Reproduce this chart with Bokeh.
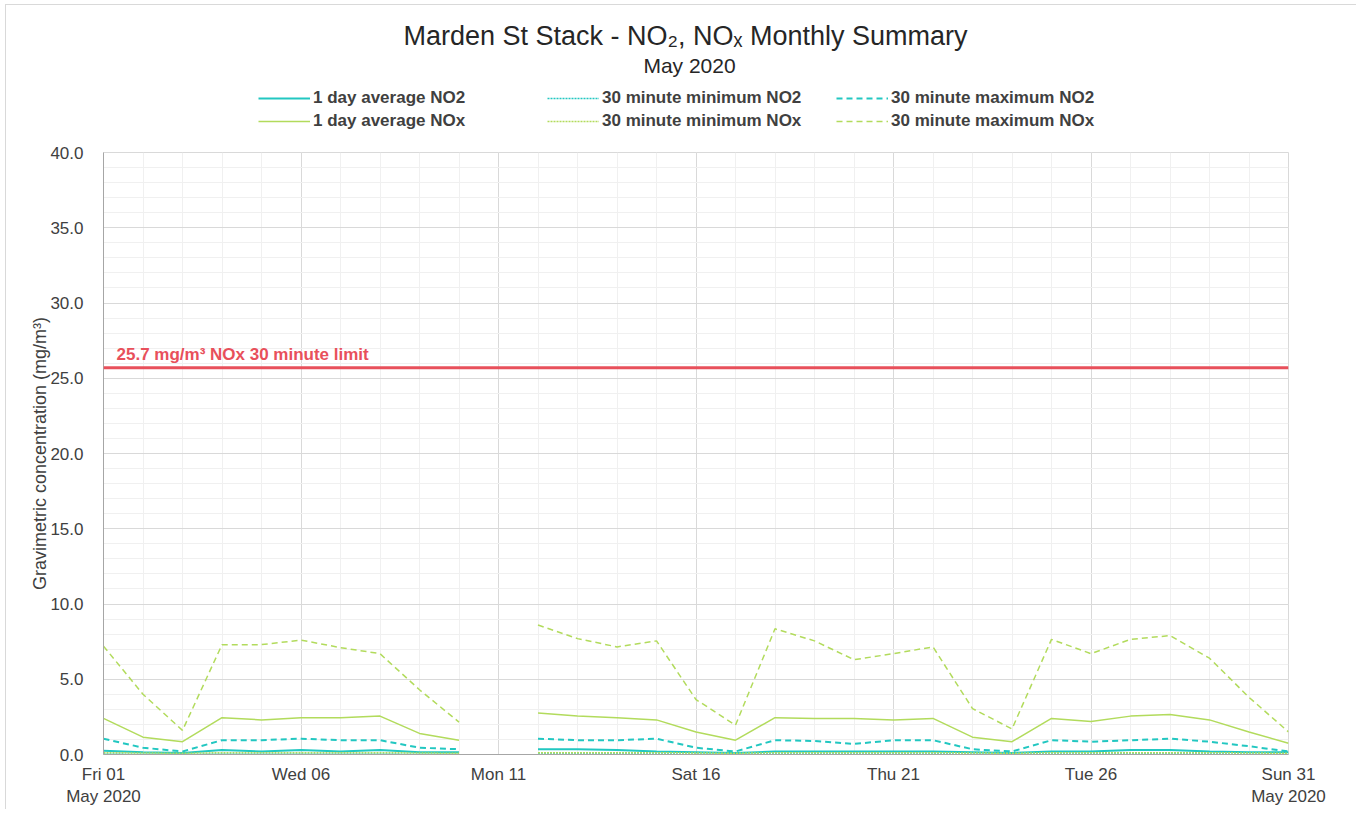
from bokeh.plotting import figure
from bokeh.layouts import column
from bokeh.models import (ColumnDataSource, Range1d, FixedTicker, PrintfTickFormatter,
                          Span, Label, Legend, LegendItem)
from bokeh.embed import file_html
from bokeh.resources import INLINE

nan = float("nan")

# ---- data (May 2020, one value per day; May 11 missing) ----
days = list(range(1, 32))
tick_days = [1, 6, 11, 16, 21, 26, 31]
tick_labels = ["Fri 01\nMay 2020", "Wed 06", "Mon 11", "Sat 16", "Thu 21", "Tue 26", "Sun 31\nMay 2020"]

no2_avg = [0.25, 0.15, 0.10, 0.30, 0.20, 0.30, 0.20, 0.30, 0.15, 0.15, nan,
           0.35, 0.35, 0.30, 0.20, 0.15, 0.10, 0.20, 0.20, 0.20, 0.20,
           0.20, 0.15, 0.10, 0.20, 0.20, 0.30, 0.30, 0.20, 0.15, 0.15]
no2_min = [0.03, 0.02, 0.02, 0.03, 0.03, 0.03, 0.03, 0.03, 0.02, 0.02, nan,
           0.03, 0.03, 0.03, 0.03, 0.02, 0.02, 0.03, 0.03, 0.03, 0.03,
           0.03, 0.02, 0.02, 0.03, 0.03, 0.03, 0.03, 0.03, 0.02, 0.02]
no2_max = [1.05, 0.45, 0.20, 0.95, 0.95, 1.05, 0.95, 0.95, 0.45, 0.35, nan,
           1.05, 0.95, 0.95, 1.05, 0.45, 0.20, 0.95, 0.90, 0.70, 0.95,
           0.95, 0.35, 0.20, 0.95, 0.85, 0.95, 1.05, 0.85, 0.55, 0.20]
nox_avg = [2.40, 1.15, 0.85, 2.45, 2.30, 2.45, 2.45, 2.55, 1.40, 0.95, nan,
           2.75, 2.55, 2.45, 2.30, 1.50, 0.95, 2.45, 2.40, 2.40, 2.30,
           2.40, 1.15, 0.85, 2.40, 2.20, 2.55, 2.65, 2.30, 1.50, 0.75]
nox_min = [0.12, 0.10, 0.08, 0.12, 0.12, 0.12, 0.12, 0.12, 0.10, 0.08, nan,
           0.12, 0.12, 0.12, 0.12, 0.10, 0.08, 0.12, 0.12, 0.12, 0.12,
           0.12, 0.10, 0.08, 0.12, 0.12, 0.12, 0.12, 0.12, 0.10, 0.08]
nox_max = [7.20, 4.00, 1.60, 7.30, 7.30, 7.60, 7.10, 6.70, 4.30, 2.15, nan,
           8.60, 7.70, 7.15, 7.55, 3.65, 1.95, 8.35, 7.55, 6.30, 6.70,
           7.15, 3.05, 1.70, 7.65, 6.70, 7.65, 7.90, 6.40, 3.80, 1.50]

nox_limit = 25.7
limit_label = "25.7 mg/m³ NOx 30 minute limit"
title_text = "Marden St Stack - NO₂, NOₓ Monthly Summary"
subtitle_text = "May 2020"
series_labels = ["1 day average NO2", "30 minute minimum NO2", "30 minute maximum NO2",
                 "1 day average NOx", "30 minute minimum NOx", "30 minute maximum NOx"]

FONT = "Liberation Sans"
TXT = "#404040"
TEAL = "#22C7C1"
GREEN = "#B2DB5C"
RED = "#E8505B"

W = 1350
LEFT, RIGHT = 97, 68
OX, OY = 6, 5            # canvas origin on the page (margin + border)
TOP_H = 140
MAIN_H = 664

styles = [  # (colour, width, dash)
    (TEAL, 2, "solid"), (TEAL, 1.5, "2 1"), (TEAL, 2, "6 4"),
    (GREEN, 1.5, "solid"), (GREEN, 1.5, "2 1"), (GREEN, 1.5, "6 4"),
]

# ---------------- header figure: title, subtitle, legend ----------------
# its frame is aligned with the chart frame; ranges are in page pixels
top = figure(width=W, height=TOP_H, output_backend="svg", toolbar_location=None,
             x_range=Range1d(OX + LEFT, OX + W - RIGHT), y_range=Range1d(OY + TOP_H, OY),
             min_border_left=LEFT, min_border_right=RIGHT, min_border_top=0, min_border_bottom=0,
             outline_line_color=None, background_fill_color="white", border_fill_color="white")
top.axis.visible = False
top.grid.visible = False
top.add_layout(Label(x=685, y=35, text=title_text, text_align="center", text_baseline="middle",
                     text_font=FONT, text_font_size="27px", text_color="#262626"))
top.add_layout(Label(x=689, y=65, text=subtitle_text, text_align="center", text_baseline="middle",
                     text_font=FONT, text_font_size="21px", text_color="#262626"))
leg_renderers = [top.line(x=[nan], y=[nan], line_color=c, line_width=w, line_dash=d)
                 for c, w, d in styles]
legend = Legend(items=[LegendItem(label=l, renderers=[r]) for l, r in zip(series_labels, leg_renderers)],
                orientation="horizontal", ncols=3, location=(155, 14),
                label_text_font=FONT, label_text_font_size="17px", label_text_font_style="bold",
                label_text_color=TXT, glyph_width=52, glyph_height=20, label_height=20,
                label_width=231, label_standoff=3, spacing=3, padding=0, margin=0,
                border_line_alpha=0, background_fill_alpha=0)
top.add_layout(legend, "center")

# ---------------- main chart ----------------
src = ColumnDataSource(dict(day=days, no2_avg=no2_avg, no2_min=no2_min, no2_max=no2_max,
                            nox_avg=nox_avg, nox_min=nox_min, nox_max=nox_max))

p = figure(width=W, height=MAIN_H, output_backend="svg", toolbar_location=None,
           x_range=Range1d(1, 31), y_range=Range1d(0, 40),
           min_border_left=LEFT, min_border_right=RIGHT, min_border_bottom=55, min_border_top=7,
           background_fill_color="white", border_fill_color="white")
p.outline_line_color = "#d9d9d9"

p.xaxis.ticker = FixedTicker(ticks=tick_days, minor_ticks=days)
p.xaxis.major_label_overrides = {d: l for d, l in zip(tick_days, tick_labels)}
p.yaxis.ticker = FixedTicker(ticks=[0, 5, 10, 15, 20, 25, 30, 35, 40], minor_ticks=list(range(0, 41)))
p.yaxis.formatter = PrintfTickFormatter(format="%.1f")
for ax in (p.xaxis[0], p.yaxis[0]):
    ax.major_tick_line_color = None
    ax.minor_tick_line_color = None
    ax.axis_line_color = "#a6a6a6"
    ax.major_label_text_font = FONT
    ax.major_label_text_font_size = "17px"
    ax.major_label_text_color = TXT
p.yaxis.major_label_standoff = 14
p.xaxis.major_label_standoff = 4
p.yaxis.axis_label = "Gravimetric concentration (mg/m³)"
p.yaxis.axis_label_text_font = FONT
p.yaxis.axis_label_text_font_size = "18px"
p.yaxis.axis_label_text_font_style = "normal"
p.yaxis.axis_label_text_color = TXT
p.yaxis.axis_label_standoff = -3

p.xgrid.grid_line_color = "#d9d9d9"
p.ygrid.grid_line_color = "#d9d9d9"
p.xgrid.minor_grid_line_color = "#f0f0f0"
p.ygrid.minor_grid_line_color = "#f0f0f0"

p.add_layout(Span(location=nox_limit, dimension="width", line_color=RED, line_width=3))
p.add_layout(Label(x=1, y=nox_limit, x_offset=13, y_offset=4, text=limit_label,
                   text_font=FONT, text_font_size="17px", text_font_style="bold",
                   text_color=RED, text_baseline="bottom"))

for col, (c, w, d) in zip(["no2_avg", "no2_min", "no2_max", "nox_avg", "nox_min", "nox_max"], styles):
    p.line("day", col, source=src, line_color=c, line_width=w, line_dash=d)

layout = column(top, p, spacing=0,
                styles={"border-left": "1px solid #d9d9d9", "border-top": "1px solid #d9d9d9",
                        "margin-left": "5px", "margin-top": "4px"})

open("out.html", "w").write(file_html(layout, INLINE))
